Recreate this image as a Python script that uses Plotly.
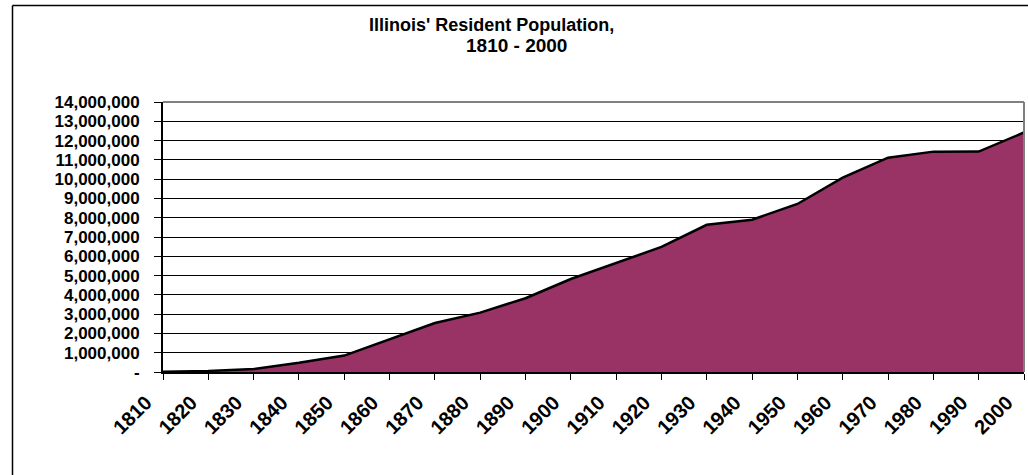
import plotly.graph_objects as go

years = [1810, 1820, 1830, 1840, 1850, 1860, 1870, 1880, 1890, 1900,
         1910, 1920, 1930, 1940, 1950, 1960, 1970, 1980, 1990, 2000]
population = [12282, 55211, 157445, 476183, 851470, 1711951, 2539891, 3077871,
              3826352, 4821550, 5638591, 6485280, 7630654, 7897241, 8712176,
              10081158, 11113976, 11426518, 11430602, 12419293]
y_ticks = list(range(0, 14000001, 1000000))
y_labels = ["-"] + [f"{v:,}" for v in y_ticks[1:]]
x_labels = [str(y) for y in years]

W, H = 1028, 475
L, R, T, B = 163, 4, 102, 103
pw, ph = W - L - R, H - T - B

def px(x):
    return (x - L) / pw

def py(y):
    return (H - B - y) / ph

FONT = "Liberation Sans, Arial, sans-serif"

fig = go.Figure()
fig.add_trace(go.Scatter(
    x=years, y=population, mode="lines",
    fill="tozeroy", fillcolor="#993366",
    line=dict(color="black", width=2.5),
    hoverinfo="skip", showlegend=False,
))

fig.update_layout(
    width=W, height=H,
    margin=dict(l=L, r=R, t=T, b=B, pad=0),
    paper_bgcolor="white", plot_bgcolor="white",
    font=dict(family=FONT, color="black"),
    xaxis=dict(
        range=[1809.999, 2000.001], tickmode="array", tickvals=years, ticktext=x_labels,
        tickangle=-45, ticks="outside", ticklen=6, tickcolor="black", tickwidth=1,
        showgrid=False, showline=True, linecolor="black", linewidth=2,
        tickfont=dict(family=FONT, size=20, color="black", weight="bold"),
        ticklabelstandoff=3, ticklabelshift=-17, automargin=False,
        zeroline=False, fixedrange=True,
    ),
    yaxis=dict(
        range=[0, 14000000], tickmode="array", tickvals=y_ticks, ticktext=y_labels,
        ticks="outside", ticklen=7, tickcolor="black", tickwidth=1,
        showgrid=True, gridcolor="black", gridwidth=1,
        showline=True, linecolor="black", linewidth=2,
        tickfont=dict(family=FONT, size=17, color="black", weight="bold"),
        ticklabelstandoff=11, automargin=False,
        zeroline=False, fixedrange=True, layer="below traces",
    ),
    annotations=[
        dict(text="<b>Illinois' Resident Population,</b>", xref="paper", yref="paper",
             x=px(491), y=py(25), xanchor="center", yanchor="middle", showarrow=False,
             font=dict(family=FONT, size=18, color="black")),
        dict(text="<b>1810 - 2000</b>", xref="paper", yref="paper",
             x=px(516), y=py(45), xanchor="center", yanchor="middle", showarrow=False,
             font=dict(family=FONT, size=19, color="black")),
    ],
    shapes=[
        dict(type="line", xref="paper", yref="paper", x0=0, x1=1, y0=1, y1=1,
             line=dict(color="#808080", width=2)),
        dict(type="line", xref="paper", yref="paper", x0=1, x1=1, y0=0, y1=1,
             line=dict(color="#808080", width=2)),
        dict(type="line", xref="paper", yref="paper", x0=px(12.5), x1=px(W + 10),
             y0=py(5.5), y1=py(5.5), line=dict(color="black", width=1.5)),
        dict(type="line", xref="paper", yref="paper", x0=px(12.5), x1=px(12.5),
             y0=py(5.5), y1=py(H + 10), line=dict(color="black", width=1.5)),
    ],
)

fig.write_html("out.html", config={"displayModeBar": False},
               post_script="document.body.style.margin='0';document.body.style.overflow='hidden';")
